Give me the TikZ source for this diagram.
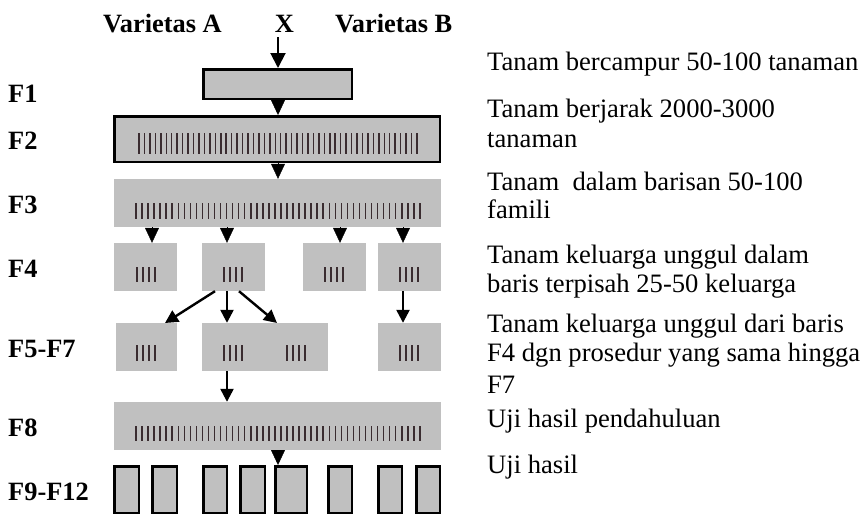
\documentclass[tikz,border=0pt]{standalone}
\usepackage{fontspec}
\setmainfont{Liberation Serif}
\usetikzlibrary{arrows.meta}
\definecolor{boxgray}{RGB}{192,192,192}
\definecolor{barink}{RGB}{58,44,48}
\begin{document}
\begin{tikzpicture}[x=1pt,y=-1pt,
  every node/.style={font=\fontsize{26.6}{30}\selectfont},
  plain/.style={rectangle,fill=boxgray,inner sep=0pt,minimum width=#1},
  framed/.style={rectangle,fill=boxgray,draw=black,line width=2.5pt,inner sep=0pt,minimum width=#1},
  gen/.style={font=\fontsize{26.4}{30}\selectfont\bfseries,anchor=base west,inner sep=0pt},
  desc/.style={anchor=base west,inner sep=0pt},
  bar/.style={draw=barink,line width=1.5pt},
  tip/.style={line width=0.4pt,-{Triangle[width=14pt,length=15pt]}},
  arr/.style={line width=2.4pt,-{Triangle[width=13pt,length=13pt]}}
]
\useasboundingbox (0,0) rectangle (861,515);

% parents and cross
\node[gen] (va) at (103,32) {Varietas A};
\node[gen,anchor=base] (cross) at (284.5,32) {X};
\node[gen] (vb) at (335,32) {Varietas B};
\coordinate (xin) at (278,37);

% generation labels
\node[gen] (l1) at (8,102) {F1};
\node[gen] (l2) at (8,149) {F2};
\node[gen] (l3) at (8,213) {F3};
\node[gen] (l4) at (8,277) {F4};
\node[gen] (l5) at (8,357) {F5-F7};
\node[gen] (l8) at (8,436) {F8};
\node[gen] (l9) at (8,500) {F9-F12};

% F1, F2, F3
\node[framed=148.5pt,minimum height=29.5pt] (f1) at (277.5,84) {};
\node[framed=325.5pt,minimum height=45.5pt] (f2) at (277,139) {};
\node[plain=327pt,minimum height=48pt] (f3) at (277.5,203) {};

% F4 families
\node[plain=63pt,minimum height=48pt] (f4a) at (145.5,267) {};
\node[plain=63pt,minimum height=48pt] (f4b) at (233.5,267) {};
\node[plain=63pt,minimum height=48pt] (f4c) at (334.5,267) {};
\node[plain=63pt,minimum height=48pt] (f4d) at (409.5,267) {};

% F5-F7 families
\node[plain=61pt,minimum height=48pt] (f5a) at (146.5,347) {};
\node[plain=63.5pt,minimum height=48pt] (f5b) at (233.5,347) {};
\node[plain=63.5pt,minimum height=48pt] (f5c) at (296.5,347) {};
\node[plain=63pt,minimum height=48pt] (f5d) at (409.5,347) {};

% F8
\node[plain=327pt,minimum height=48pt] (f8) at (277.5,426) {};

% F9-F12 plots
\foreach \n/\cx/\w in {g1/126.5/24.5,g2/164.5/24.5,g3/215/23.5,g4/252.5/24.5,
                       g5/291/31.5,g6/340/23.5,g7/390/23.5,g8/428/23.5}
  \node[framed=\w pt,minimum height=46.5pt] (\n) at (\cx,489.5) {};

% rows of plants
\foreach \i in {0,...,51} \draw[bar] ({139+\i*5.45},133) -- ++(0,21);
\foreach \i in {0,...,47} \draw[bar] ({136+\i*6.04},203) -- ++(0,16);
\foreach \i in {0,...,47} \draw[bar] ({136+\i*6.04},426) -- ++(0,15);
\foreach \cx in {146,233,334,409}
  \foreach \d in {-9,-3,3,9} \draw[bar] ({\cx+\d},267) -- ++(0,15);
\foreach \cx in {146,233,296,409}
  \foreach \d in {-9,-3,3,9} \draw[bar] ({\cx+\d},345) -- ++(0,16);

% connectors
\draw[line width=2pt,-{Triangle[width=15pt,length=15pt]}] (xin) -- (xin |- f1.north);
\draw[tip] (f1.south -| xin) -- (f2.north -| xin);
\draw[tip] (f2.south -| xin) -- (f3.north -| xin);
\foreach \t/\x in {f4a/152,f4b/227,f4c/340,f4d/403}
  \draw[tip] (\x,227) -- (\t.north -| \x,0);
\draw[arr] (f4b.south -| 215,0) -- (165,323);
\draw[arr] (f4b.south -| 227,0) -- (f5b.north -| 227,0);
\draw[arr] (f4b.south -| 239,0) -- (277,323);
\draw[arr] (f4d.south -| 403,0) -- (f5d.north -| 403,0);
\draw[arr] (f5b.south -| 227,0) -- (f8.north -| 227,0);
\draw[tip] (f8.south -| xin) -- (g5.north -| xin);

% descriptions
\node[desc] (d1) at (487,70) {Tanam bercampur 50-100 tanaman};
\node[desc] (d2a) at (487,117) {Tanam berjarak 2000-3000};
\node[desc] (d2b) at (487,147) {tanaman};
\node[desc] (d3a) at (487,190) {Tanam\ \ dalam barisan 50-100};
\node[desc] (d3b) at (487,218) {famili};
\node[desc] (d4a) at (487,263) {Tanam keluarga unggul dalam};
\node[desc] (d4b) at (487,292) {baris terpisah 25-50 keluarga};
\node[desc] (d5a) at (487,332) {Tanam keluarga unggul dari baris};
\node[desc] (d5b) at (487,361) {F4 dgn prosedur yang sama hingga};
\node[desc] (d5c) at (487,393) {F7};
\node[desc] (d8) at (487,427) {Uji hasil pendahuluan};
\node[desc] (d9) at (487,473) {Uji hasil};
\end{tikzpicture}
\end{document}
